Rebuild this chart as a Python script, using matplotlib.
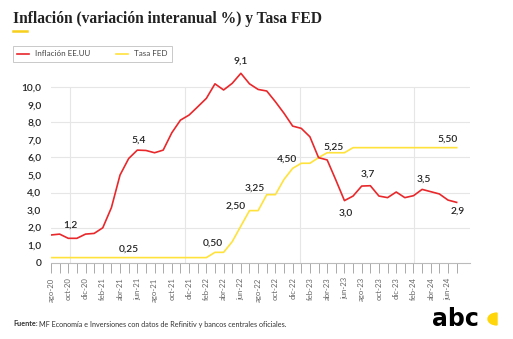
import matplotlib
matplotlib.use('Agg')
import matplotlib.pyplot as plt
from matplotlib.patches import Wedge
from matplotlib.lines import Line2D

# monthly series, ago-20 .. jul-24 (values as drawn on the chart's y axis)
months = ['ago-20', 'sep-20', 'oct-20', 'nov-20', 'dic-20', 'ene-21', 'feb-21', 'mar-21',
          'abr-21', 'may-21', 'jun-21', 'jul-21', 'ago-21', 'sep-21', 'oct-21', 'nov-21',
          'dic-21', 'ene-22', 'feb-22', 'mar-22', 'abr-22', 'may-22', 'jun-22', 'jul-22',
          'ago-22', 'sep-22', 'oct-22', 'nov-22', 'dic-22', 'ene-23', 'feb-23', 'mar-23',
          'abr-23', 'may-23', 'jun-23', 'jul-23', 'ago-23', 'sep-23', 'oct-23', 'nov-23',
          'dic-23', 'ene-24', 'feb-24', 'mar-24', 'abr-24', 'may-24', 'jun-24', 'jul-24']

inflacion = [1.58, 1.63, 1.39, 1.39, 1.63, 1.67, 1.99, 3.14,
             5.00, 5.94, 6.42, 6.40, 6.27, 6.42, 7.41, 8.13,
             8.42, 8.89, 9.37, 10.20, 9.85, 10.23, 10.80, 10.20,
             9.88, 9.79, 9.18, 8.52, 7.79, 7.66, 7.18, 5.99,
             5.86, 4.72, 3.54, 3.80, 4.37, 4.39, 3.80, 3.71,
             4.03, 3.71, 3.82, 4.18, 4.05, 3.92, 3.57, 3.44]

tasa_fed = [0.29, 0.29, 0.29, 0.29, 0.29, 0.29, 0.29, 0.29,
            0.29, 0.29, 0.29, 0.29, 0.29, 0.29, 0.29, 0.29,
            0.29, 0.29, 0.29, 0.59, 0.59, 1.20, 2.09, 2.97,
            2.97, 3.88, 3.88, 4.75, 5.38, 5.67, 5.67, 5.99,
            6.27, 6.27, 6.27, 6.56, 6.56, 6.56, 6.56, 6.56,
            6.56, 6.56, 6.56, 6.56, 6.56, 6.56, 6.56, 6.56]

# point labels: (text, month position, height)
labels_inflacion = [('1,2', 2.3, 2.14), ('5,4', 10.1, 7.0), ('9,1', 22.0, 11.5),
                    ('3,0', 34.2, 2.83), ('3,7', 36.7, 5.05), ('3,5', 43.2, 4.77),
                    ('2,9', 47.1, 2.96)]
labels_fed = [('0,25', 9.0, 0.78), ('0,50', 18.8, 1.12), ('2,50', 21.4, 3.23),
              ('3,25', 23.6, 4.26), ('4,50', 27.4, 5.91), ('5,25', 32.7, 6.59),
              ('5,50', 45.9, 7.05)]

yticks = list(range(11))
ytick_labels = ['0'] + [f'{v},0' for v in range(1, 11)]

red = '#e8282b'
yellow = '#ffe23c'
dark = '#222222'

plt.rcParams['font.family'] = ['Lato', 'DejaVu Sans']

fig = plt.figure(figsize=(5.13, 3.39), dpi=100)
fig.patch.set_facecolor('white')
ax = fig.add_axes([0.0994, 0.2251, 0.8168, 0.569])

x = list(range(len(months)))
ax.plot(x, tasa_fed, color=yellow, lw=1.2, zorder=3)
ax.plot(x, inflacion, color=red, lw=1.2, zorder=4)

for txt, xp, yp in labels_inflacion + labels_fed:
    ax.text(xp, yp, txt, ha='center', va='center', fontsize=7.4,
            color=dark, fontweight='semibold', clip_on=False, zorder=5)

ax.set_xlim(0, 48.55)
ax.set_ylim(0, 11)

# grid
for g in [2, 4, 6, 8, 10]:
    ax.axhline(g, color='#e6e6e6', lw=0.8, zorder=1)
ax.vlines([2.2, 15.5, 28.8, 42.1], 0, 10, color='#e6e6e6', lw=0.8, zorder=1)

ax.set_yticks(yticks)
ax.set_yticklabels(ytick_labels)
ax.tick_params(axis='y', length=0, pad=7, labelsize=7.3, labelcolor=dark)
for t in ax.get_yticklabels():
    t.set_fontweight('semibold')

ax.set_xticks(x)
ax.set_xticklabels([m if i % 2 == 0 else '' for i, m in enumerate(months)],
                   rotation=90)
ax.tick_params(axis='x', length=7.5, width=0.7, color='#aaaaaa', pad=3,
               labelsize=5.6, labelcolor='#666666')

for s in ['top', 'right', 'left']:
    ax.spines[s].set_visible(False)
ax.spines['bottom'].set_color('#bbbbbb')
ax.spines['bottom'].set_linewidth(0.8)

# title
fig.text(0.0253, 0.945, 'Inflación (variación interanual %) y Tasa FED',
         fontsize=11.2, fontweight='bold', family=['Liberation Serif'],
         color=dark, va='center', ha='left')
fig.add_artist(Line2D([13 / 513, 27 / 513], [1 - 30.5 / 339, 1 - 30.5 / 339],
                      color='#f7cf1d', lw=1.8))

# legend
handles = [Line2D([], [], color=red, lw=1.2), Line2D([], [], color=yellow, lw=1.2)]
leg = fig.legend(handles, ['Inflación EE.UU', 'Tasa FED'], ncol=2,
                 loc='upper left',
                 bbox_to_anchor=(13 / 513, 1 - 65 / 339, 159 / 513, 19 / 339),
                 mode='expand', fontsize=5.8, handlelength=1.4, frameon=True,
                 fancybox=False, borderpad=0.55, labelcolor='#444444',
                 borderaxespad=0)
leg.get_frame().set_edgecolor('#bbbbbb')
leg.get_frame().set_linewidth(0.7)

# footer
fy = 1 - 324 / 339
f1 = fig.text(0.0253, fy, 'Fuente:', fontsize=5.2, fontweight='bold',
              color='#333333', va='center')
r = fig.canvas.get_renderer()
bb = f1.get_window_extent(renderer=r)
fig.text(bb.x1 / fig.bbox.width + 0.003, fy,
         'MF Economía e Inversiones con datos de Refinitiv y bancos centrales oficiales.',
         fontsize=5.2, color='#333333', va='center')

# logo
fig.text(455 / 513, 1 - 319 / 339, 'abc', fontsize=17, fontweight='black',
         family=['DejaVu Sans'], color='black', ha='center', va='center')
fig.add_artist(Wedge((497 / 513, 1 - 319 / 339), 9 / 513, 90, 270,
                     color='#ffd60a', transform=fig.transFigure))

fig.savefig('out.png', dpi=100)
